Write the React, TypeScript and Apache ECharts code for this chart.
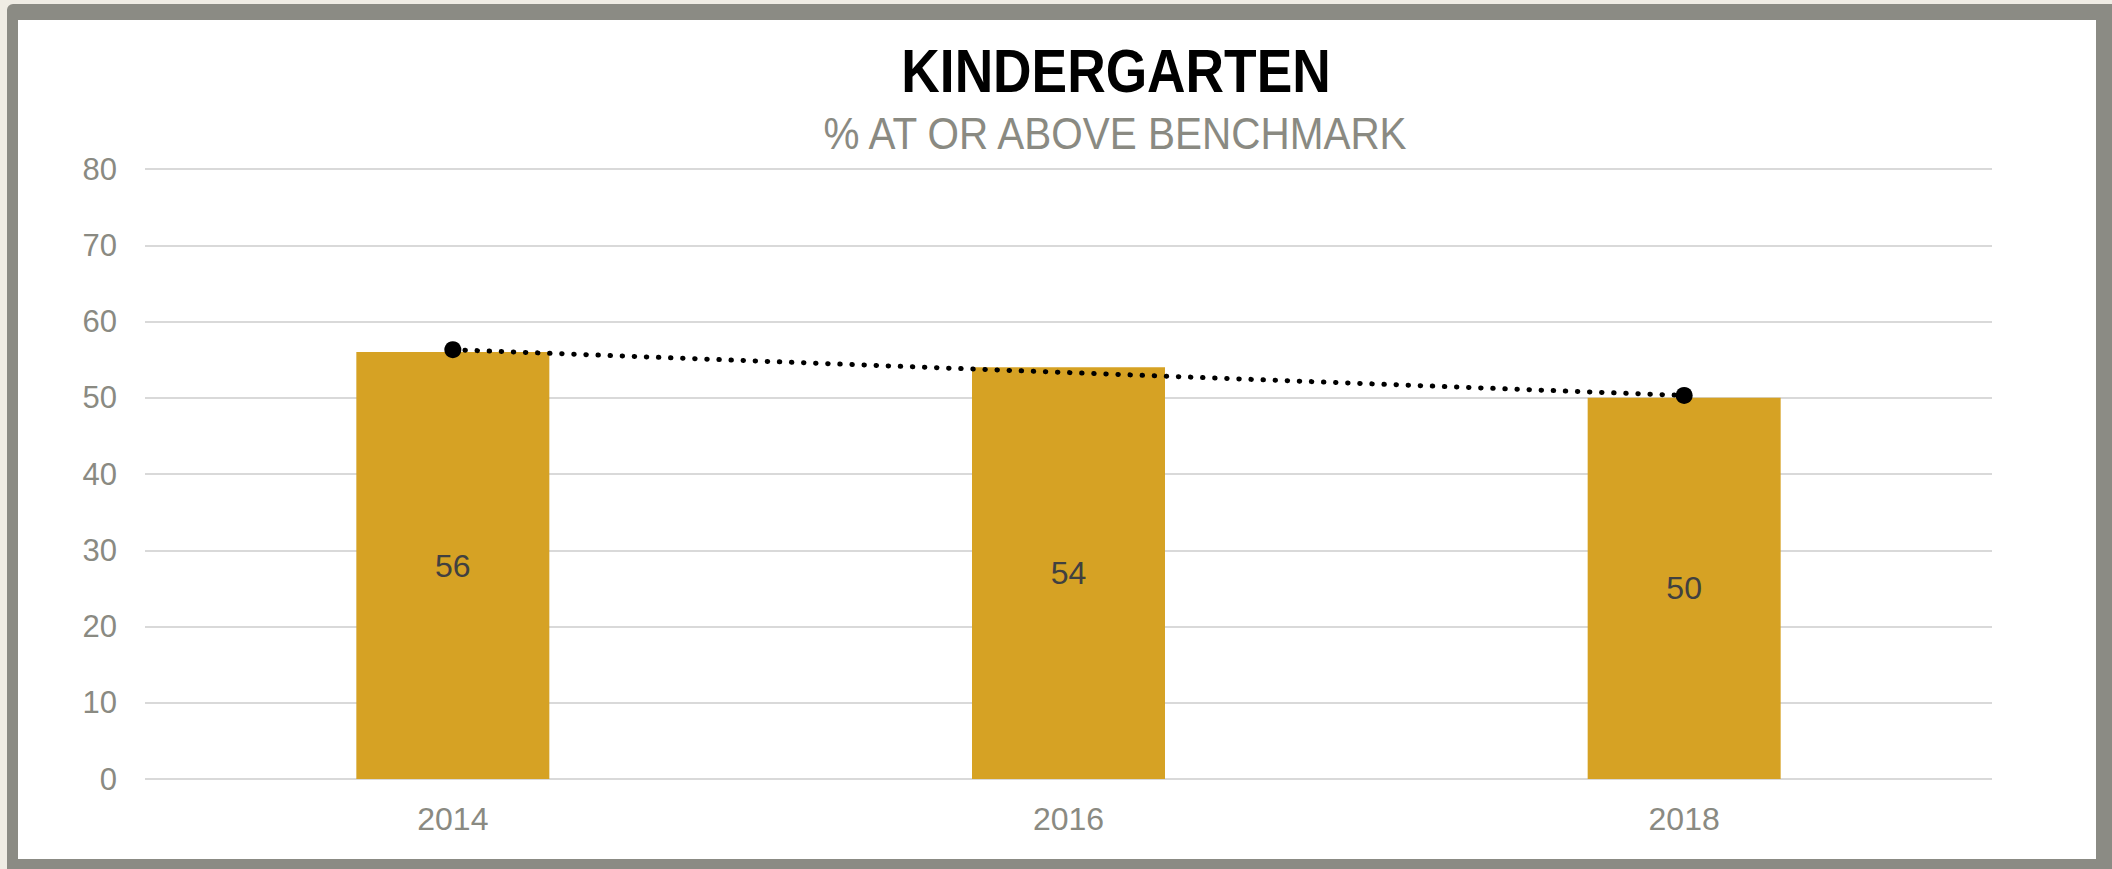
import React, { useEffect, useRef } from "react";
import * as echarts from "echarts";

const categories = ["2014", "2016", "2018"];
const barValues = [56, 54, 50];
const trendValues: (number | string)[] = [56.3, "-", 50.3];
const yMin = 0;
const yMax = 80;
const yStep = 10;
const titleText = "KINDERGARTEN";
const subtitleText = "% AT OR ABOVE BENCHMARK";

const FONT = "'Liberation Sans', Arial, sans-serif";
const GRAY = "#8a8a82";

export default function App() {
  const ref = useRef<HTMLDivElement>(null);
  useEffect(() => {
    const chart = echarts.init(ref.current!, null, { renderer: "svg" });
    chart.setOption({
      animation: false,
      backgroundColor: "transparent",
      grid: { left: 145, right: 120, top: 169, bottom: 90 },
      xAxis: {
        type: "category",
        data: categories,
        axisLine: { show: false },
        axisTick: { show: false },
        axisLabel: { color: GRAY, fontSize: 32, fontFamily: FONT, margin: 24 },
      },
      yAxis: {
        type: "value",
        min: yMin,
        max: yMax,
        interval: yStep,
        axisLine: { show: false },
        axisTick: { show: false },
        axisLabel: { color: GRAY, fontSize: 31, fontFamily: FONT, margin: 28 },
        splitLine: { lineStyle: { color: "#d9d9d9", width: 2 } },
      },
      series: [
        {
          type: "bar",
          data: barValues,
          barWidth: 193,
          itemStyle: { color: "#d6a224" },
          label: {
            show: true,
            position: "inside",
            color: "#404040",
            fontSize: 32,
            fontFamily: FONT,
          },
          z: 2,
        },
        {
          type: "line",
          data: trendValues,
          connectNulls: true,
          symbol: "circle",
          symbolSize: 17,
          itemStyle: { color: "#000000" },
          lineStyle: { color: "#000000", width: 5, type: [0.5, 11.6], cap: "round" },
          z: 3,
        },
      ],
      graphic: [
        {
          type: "text",
          x: 1116,
          y: 71,
          scaleX: 0.874,
          style: {
            text: titleText,
            x: 0,
            y: 0,
            align: "center",
            verticalAlign: "middle",
            fill: "#000000",
            font: `bold 61px ${FONT}`,
          },
        },
        {
          type: "text",
          x: 1115,
          y: 134,
          scaleX: 0.92,
          style: {
            text: subtitleText,
            x: 0,
            y: 0,
            align: "center",
            verticalAlign: "middle",
            fill: "#8a8a82",
            font: `normal 44px ${FONT}`,
          },
        },
      ],
    });
    return () => chart.dispose();
  }, []);

  return (
    <div
      style={{
        position: "fixed",
        left: 0,
        top: 0,
        width: 2112,
        height: 869,
        background: "#efece4",
        overflow: "hidden",
      }}
    >
      <div
        style={{
          position: "absolute",
          left: 7,
          top: 4,
          width: 2105,
          height: 865,
          boxSizing: "border-box",
          borderStyle: "solid",
          borderColor: "#8b8b84",
          borderWidth: "16px 16px 10px 11px",
          borderTopLeftRadius: 6,
          background: "#ffffff",
        }}
      />
      <div
        ref={ref}
        style={{ position: "absolute", left: 0, top: 0, width: 2112, height: 869 }}
      />
    </div>
  );
}
